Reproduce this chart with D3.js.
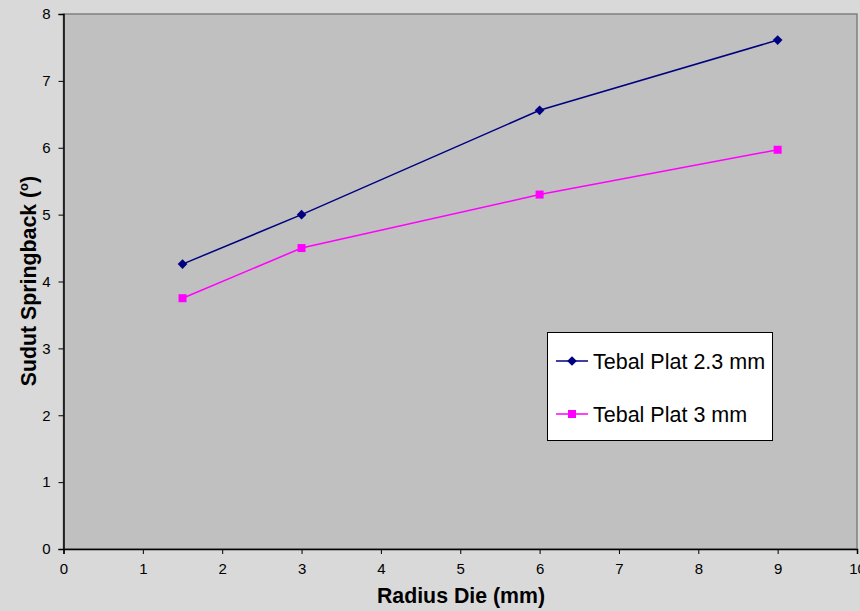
<!DOCTYPE html>
<html>
<head>
<meta charset="utf-8">
<script src="https://cdn.jsdelivr.net/npm/d3@7"></script>
<style>
  html, body { margin: 0; padding: 0; background: #d9d9d9; }
  svg { display: block; font-family: "Liberation Sans", Arial, sans-serif; }
</style>
</head>
<body>
<svg id="chart" width="860" height="611"></svg>
<script>
const radiusDie = [1.5, 3, 6, 9];
const plat23 = [4.26, 5.0, 6.56, 7.61];
const plat3 = [3.75, 4.5, 5.3, 5.97];
const seriesNames = ["Tebal Plat 2.3 mm", "Tebal Plat 3 mm"];
const xTicks = [0, 1, 2, 3, 4, 5, 6, 7, 8, 9, 10];
const yTicks = [0, 1, 2, 3, 4, 5, 6, 7, 8];
const xTitle = "Radius Die (mm)";
const yTitle = "Sudut Springback (";

const svg = d3.select("#chart");
const W = 860, H = 611;
const m = { left: 63.5, right: 3, top: 14, bottom: 62 };
const x = d3.scaleLinear().domain([0, 10]).range([m.left, W - m.right]);
const y = d3.scaleLinear().domain([0, 8]).range([H - m.bottom, m.top]);

svg.append("rect").attr("width", W).attr("height", H).attr("fill", "#d9d9d9");

// plot area
svg.append("rect")
  .attr("x", x(0)).attr("y", y(8))
  .attr("width", x(10) - x(0)).attr("height", y(0) - y(8))
  .attr("fill", "#c0c0c0")
  .attr("stroke", "#808080").attr("stroke-width", 1.5);

// axes
const xAxis = svg.append("g").attr("transform", `translate(0,${y(0)})`)
  .call(d3.axisBottom(x).tickValues(xTicks).tickSize(5).tickPadding(9).tickFormat(d3.format("d")));
const yAxis = svg.append("g").attr("transform", `translate(${x(0)},0)`)
  .call(d3.axisLeft(y).tickValues(yTicks).tickSize(5).tickPadding(8).tickFormat(d3.format("d")));
[xAxis, yAxis].forEach(g => {
  g.select(".domain").attr("stroke", "#000").attr("stroke-width", 1.5);
  g.selectAll(".tick line").attr("stroke", "#000");
  g.selectAll(".tick text").attr("fill", "#000").style("font-size", "15px")
    .style("font-family", "'Liberation Sans', Arial, sans-serif");
});

// lines
const series = [
  { name: seriesNames[0], values: plat23, color: "#000080", shape: "diamond" },
  { name: seriesNames[1], values: plat3, color: "#ff00ff", shape: "square" }
];
const line = d3.line().x((d, i) => x(radiusDie[i])).y(d => y(d));
const sym = s => s === "diamond"
  ? d3.symbol().type(d3.symbolDiamond2).size(60)
  : d3.symbol().type(d3.symbolSquare).size(64);

series.forEach(s => {
  svg.append("path").datum(s.values).attr("d", line)
    .attr("fill", "none").attr("stroke", s.color).attr("stroke-width", 1.5);
  svg.selectAll(null).data(s.values).enter().append("path")
    .attr("transform", (d, i) => `translate(${x(radiusDie[i])},${y(d)})`)
    .attr("d", sym(s.shape)()).attr("fill", s.color);
});

// legend
const lg = svg.append("g");
lg.append("rect").attr("x", 547.5).attr("y", 332.5).attr("width", 225).attr("height", 108)
  .attr("fill", "#ffffff").attr("stroke", "#000").attr("stroke-width", 1);
series.forEach((s, i) => {
  const cy = 361 + i * 53;
  lg.append("line").attr("x1", 556).attr("x2", 588).attr("y1", cy).attr("y2", cy)
    .attr("stroke", s.color).attr("stroke-width", 1.5);
  lg.append("path").attr("transform", `translate(572,${cy})`).attr("d", sym(s.shape)()).attr("fill", s.color);
  lg.append("text").attr("x", 593).attr("y", cy + 8).text(s.name)
    .style("font-size", "21.5px").attr("fill", "#000");
});

// axis titles
svg.append("text").attr("x", 461).attr("y", 603).attr("text-anchor", "middle")
  .style("font-size", "21.3px").style("font-weight", "bold").text(xTitle);
const yt = svg.append("text").attr("transform", "translate(36,281) rotate(-90)")
  .attr("text-anchor", "middle").style("font-size", "21.3px").style("font-weight", "bold");
yt.append("tspan").text(yTitle);
yt.append("tspan").attr("dy", -8).style("font-size", "13px").text("o");
yt.append("tspan").attr("dy", 8).text(")");
</script>
</body>
</html>
